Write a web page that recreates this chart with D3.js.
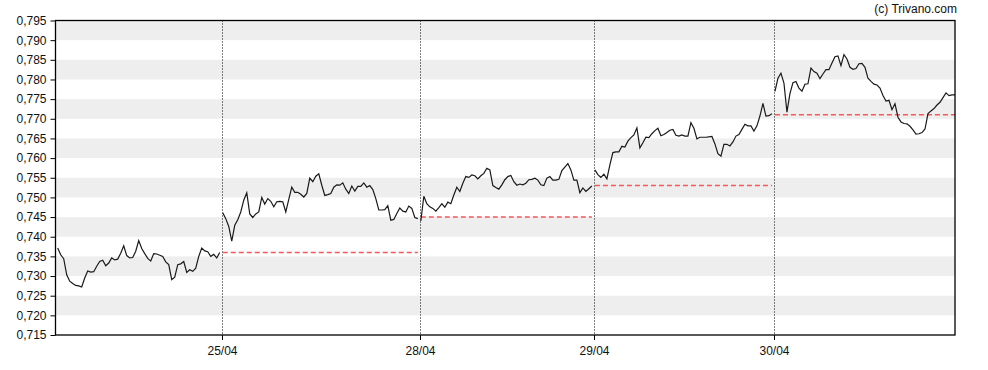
<!DOCTYPE html>
<html>
<head>
<meta charset="utf-8">
<script src="https://cdn.jsdelivr.net/npm/d3@7"></script>
<style>
  body { margin: 0; background: #fff; }
  svg { display: block; font-family: "Liberation Sans", Arial, sans-serif; }
</style>
</head>
<body>
<svg id="chart"></svg>
<script>
const dayLabels = ["24/04", "25/04", "28/04", "29/04", "30/04"];
const prevClose = [null, 0.736, 0.745, 0.753, 0.771];

const day1 = [0.7371, 0.7354, 0.7344, 0.7303, 0.7287, 0.7281, 0.7276, 0.7275, 0.7272, 0.7295,
  0.7313, 0.7310, 0.7311, 0.7325, 0.7337, 0.7340, 0.7326, 0.7333, 0.7346, 0.7341,
  0.7343, 0.7358, 0.7377, 0.7352, 0.7346, 0.7347, 0.7363, 0.7390, 0.7370, 0.7357,
  0.7345, 0.7338, 0.7357, 0.7356, 0.7353, 0.7350, 0.7336, 0.7329, 0.7291, 0.7297,
  0.7329, 0.7331, 0.7337, 0.7309, 0.7316, 0.7312, 0.7320, 0.7350, 0.7371, 0.7364,
  0.7362, 0.7350, 0.7355, 0.7346, 0.7360];

const day2 = [0.7461, 0.7446, 0.7426, 0.7389, 0.7429, 0.7443, 0.7463, 0.7493, 0.7512, 0.7458,
  0.7449, 0.7458, 0.7463, 0.7500, 0.7483, 0.7497, 0.7490, 0.7476, 0.7489, 0.7490,
  0.7489, 0.7463, 0.7495, 0.7526, 0.7513, 0.7513, 0.7508, 0.7501, 0.7510, 0.7549,
  0.7540, 0.7554, 0.7560, 0.7531, 0.7505, 0.7507, 0.7510, 0.7526, 0.7532, 0.7531,
  0.7537, 0.7521, 0.7510, 0.7529, 0.7516, 0.7528, 0.7528, 0.7537, 0.7526, 0.7530,
  0.7520, 0.7497, 0.7468, 0.7468, 0.7469, 0.7479, 0.7442, 0.7444, 0.7459, 0.7473,
  0.7465, 0.7463, 0.7478, 0.7472, 0.7449, 0.7446];

const day3 = [0.7440, 0.7503, 0.7484, 0.7476, 0.7472, 0.7465, 0.7474, 0.7484, 0.7475, 0.7488,
  0.7484, 0.7506, 0.7526, 0.7515, 0.7536, 0.7553, 0.7551, 0.7557, 0.7555, 0.7547,
  0.7555, 0.7561, 0.7574, 0.7570, 0.7530, 0.7525, 0.7521, 0.7532, 0.7545, 0.7553,
  0.7556, 0.7540, 0.7531, 0.7534, 0.7532, 0.7536, 0.7545, 0.7546, 0.7549, 0.7544,
  0.7532, 0.7530, 0.7549, 0.7553, 0.7544, 0.7544, 0.7546, 0.7568, 0.7577, 0.7586,
  0.7570, 0.7544, 0.7544, 0.7512, 0.7524, 0.7515, 0.7522, 0.7529];

const day4 = [0.7570, 0.7558, 0.7551, 0.7559, 0.7547, 0.7583, 0.7614, 0.7616, 0.7616, 0.7630,
  0.7628, 0.7643, 0.7652, 0.7659, 0.7677, 0.7626, 0.7639, 0.7653, 0.7652, 0.7662,
  0.7670, 0.7676, 0.7657, 0.7660, 0.7665, 0.7671, 0.7673, 0.7658, 0.7656, 0.7659,
  0.7656, 0.7656, 0.7690, 0.7676, 0.7649, 0.7653, 0.7653, 0.7653, 0.7654, 0.7655,
  0.7636, 0.7611, 0.7605, 0.7635, 0.7635, 0.7631, 0.7641, 0.7656, 0.7660, 0.7673,
  0.7686, 0.7682, 0.7682, 0.7669, 0.7682, 0.7707, 0.7739, 0.7707, 0.7708, 0.7713];

const day5 = [0.7770, 0.7803, 0.7816, 0.7791, 0.7717, 0.7764, 0.7792, 0.7795, 0.7778, 0.7770,
  0.7788, 0.7789, 0.7829, 0.7820, 0.7816, 0.7802, 0.7814, 0.7825, 0.7825, 0.7842,
  0.7858, 0.7860, 0.7835, 0.7863, 0.7852, 0.7831, 0.7826, 0.7828, 0.7840, 0.7841,
  0.7831, 0.7803, 0.7795, 0.7788, 0.7786, 0.7778, 0.7759, 0.7745, 0.7747, 0.7723,
  0.7738, 0.7704, 0.7692, 0.7688, 0.7687, 0.7681, 0.7672, 0.7661, 0.7662, 0.7665,
  0.7674, 0.7713, 0.7720, 0.7726, 0.7735, 0.7742, 0.7754, 0.7766, 0.7759, 0.7761,
  0.7761];

const days = [day1, day2, day3, day4, day5];
const yTicks = [0.715, 0.720, 0.725, 0.730, 0.735, 0.740, 0.745, 0.750, 0.755,
  0.760, 0.765, 0.770, 0.775, 0.780, 0.785, 0.790, 0.795];

const W = 988, H = 370;
const margin = { top: 20.5, right: 33, bottom: 35, left: 55.5 };
const width = W - margin.left - margin.right;
const height = H - margin.top - margin.bottom;

const svg = d3.select("#chart").attr("width", W).attr("height", H);
const g = svg.append("g").attr("transform", `translate(${margin.left}, ${margin.top})`);

// global index for each point, days laid side by side
let offset = 0;
const series = days.map((vals, i) => {
  const pts = vals.map((v, j) => ({ i: offset + j, v }));
  const s = { start: offset, end: offset + vals.length - 1, pts, prev: prevClose[i], label: dayLabels[i] };
  offset += vals.length;
  return s;
});
const total = offset;

const x = d3.scaleLinear().domain([0, total - 1]).range([2.2, width]);
const y = d3.scaleLinear().domain([0.715, 0.795]).range([height, 0]);

// alternating bands
for (let k = 0; k < yTicks.length - 1; k += 2) {
  const top = yTicks[yTicks.length - 1 - k], bot = yTicks[yTicks.length - 2 - k];
  g.append("rect")
    .attr("x", 0).attr("width", width)
    .attr("y", y(top)).attr("height", y(bot) - y(top))
    .attr("fill", "#eeeeee");
}

const fmt = d3.formatLocale({ decimal: ",", thousands: ".", grouping: [3], currency: ["", ""] }).format(".3f");

const yAxis = g.append("g")
  .call(d3.axisLeft(y).tickValues(yTicks).tickSize(5).tickFormat(fmt));
yAxis.select(".domain").remove();
yAxis.selectAll("text").attr("font-size", 12).attr("fill", "#111").attr("dx", "-1");

// day separators (g is already offset by half a pixel)
const seps = series.slice(1);
const sepX = d => Math.round(x(d.start));
g.selectAll(".sep")
  .data(seps)
  .enter()
  .append("line")
  .attr("class", "sep")
  .attr("x1", sepX)
  .attr("x2", sepX)
  .attr("y1", 0).attr("y2", height)
  .attr("stroke", "#000")
  .attr("stroke-dasharray", "1,2");

const xAxis = g.append("g")
  .attr("transform", `translate(0, ${height})`)
  .call(d3.axisBottom(x)
    .tickValues(seps.map(d => d.start))
    .tickSize(5)
    .tickFormat((d, i) => seps[i].label));
xAxis.select(".domain").remove();
xAxis.selectAll(".tick").attr("transform", d => `translate(${Math.round(x(d))},0)`);
xAxis.selectAll("text").attr("font-size", 12).attr("fill", "#111").attr("dy", "1.0em");

// previous close
g.selectAll(".prev")
  .data(series.filter(d => d.prev !== null))
  .enter()
  .append("line")
  .attr("class", "prev")
  .attr("x1", d => x(d.start))
  .attr("x2", d => x(d.end))
  .attr("y1", d => y(d.prev))
  .attr("y2", d => y(d.prev))
  .attr("stroke", "#f05a5a")
  .attr("stroke-width", 1.5)
  .attr("stroke-dasharray", "5,3");

const line = d3.line().x(d => x(d.i)).y(d => y(d.v));
g.selectAll(".price")
  .data(series)
  .enter()
  .append("path")
  .attr("class", "price")
  .attr("d", d => line(d.pts))
  .attr("fill", "none")
  .attr("stroke", "#1a1a1a")
  .attr("stroke-width", 1.2);

// frame
g.append("rect")
  .attr("x", 0).attr("y", 0)
  .attr("width", width).attr("height", height)
  .attr("fill", "none")
  .attr("stroke", "#000")
  .attr("stroke-width", 1.3);

svg.append("text")
  .attr("x", 957).attr("y", 13)
  .attr("text-anchor", "end")
  .attr("font-size", 12)
  .attr("fill", "#111")
  .text("(c) Trivano.com");
</script>
</body>
</html>
